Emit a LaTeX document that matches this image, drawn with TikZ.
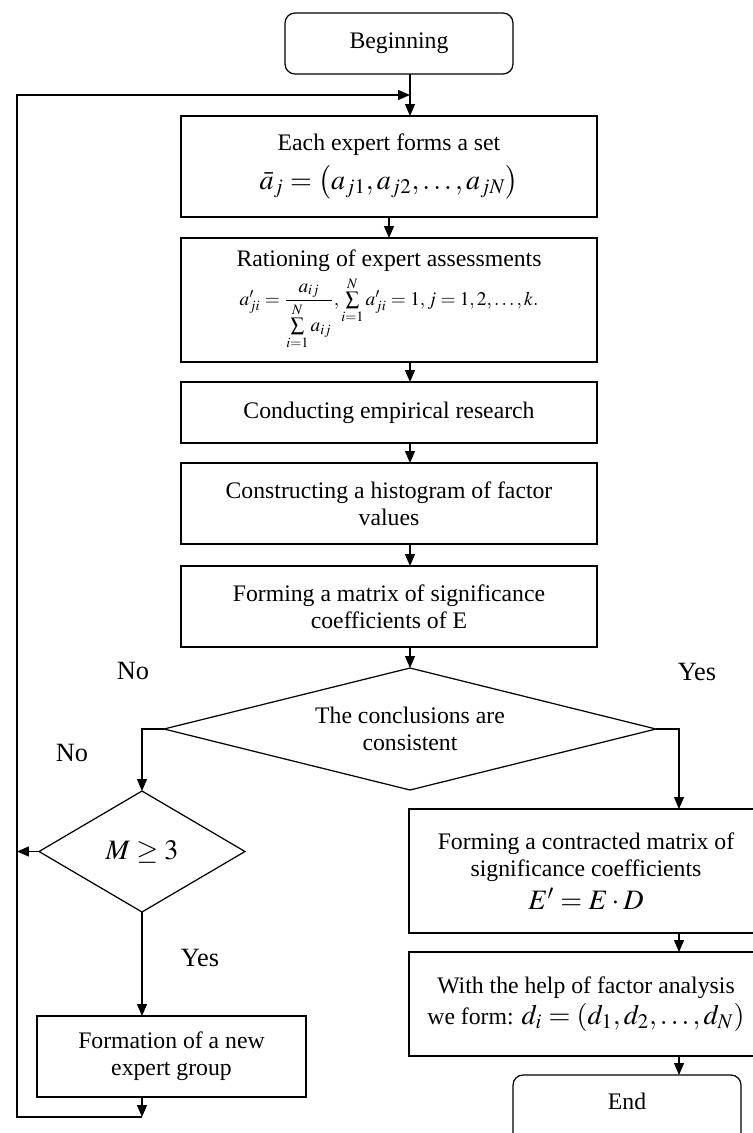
\documentclass[tikz,border=0pt]{standalone}
\usepackage{amsmath}
\usepackage{mathptmx}
\usepackage{fontspec}
\setmainfont{Liberation Serif}
\usetikzlibrary{shapes.geometric}
\usetikzlibrary{arrows.meta}

\begin{document}
\begin{tikzpicture}[x=0.02cm,y=-0.02cm,
  box/.style={draw,rectangle,line width=0.7pt,align=center,inner sep=2pt,outer sep=0pt,font=\fontsize{13.5}{15.5}\selectfont},
  term/.style={box,rounded corners=0.2cm},
  cond/.style={draw,diamond,aspect=3,line width=0.7pt,align=center,inner sep=0pt,outer sep=0pt,font=\fontsize{13.5}{15.5}\selectfont},
  lbl/.style={font=\fontsize{15}{18}\selectfont},
  arr/.style={line width=0.7pt,-{Triangle[length=0.24cm,width=0.2cm]}}]
\useasboundingbox (0,0) rectangle (752,1133);

\node[term,minimum width=4.56cm,minimum height=1.22cm] (start) at (399,43.5) {Beginning};
\node[box,minimum width=8.32cm,minimum height=2.02cm] (expert) at (389,166.5) {Each expert forms a set\\[5pt] {\fontsize{16}{18}\selectfont $\bar{a}_j=\left(a_{j1},a_{j2},\ldots,a_{jN}\right)$}};
\node[box,minimum width=8.32cm,minimum height=2.48cm] (ration) at (389,300) {Rationing of expert assessments\\[2pt] {\fontsize{11}{13}\selectfont $\boldsymbol{a}'_{ji}=\dfrac{\boldsymbol{a}_{ij}}{\sum\limits_{i=1}^{N}\boldsymbol{a}_{ij}},\sum\limits_{i=1}^{N}\boldsymbol{a}'_{ji}=1,\boldsymbol{j}=1,2,\ldots,\boldsymbol{k}.$}};
\node[box,minimum width=8.32cm,minimum height=1.22cm] (empir) at (389,412.5) {Conducting empirical research};
\node[box,minimum width=8.32cm,minimum height=1.62cm] (histo) at (389,503.5) {Constructing a histogram of factor\\ values};
\node[box,minimum width=8.32cm,minimum height=1.62cm] (signif) at (389,606.5) {Forming a matrix of significance\\ coefficients of E};
\node[cond,minimum width=9.84cm,minimum height=2.44cm] (consist) at (410,729) {The conclusions are\\ consistent};
\node[cond,minimum width=4.12cm,minimum height=2.42cm,font=\fontsize{16}{18}\selectfont] (mcheck) at (142,851.5) {$M\geq 3$};
\node[box,minimum width=5.38cm,minimum height=1.62cm] (newgroup) at (171.5,1056.5) {Formation of a new\\ expert group};
\node[box,minimum width=7.08cm,minimum height=2.48cm] (contract) at (586,871) {Forming a contracted matrix of\\ significance coefficients\\[3pt] {\fontsize{16}{18}\selectfont $E'=E\cdot D$}};
\node[box,minimum width=7.08cm,minimum height=2.08cm] (factor) at (586,1004) {With the help of factor analysis\\[2pt] we form: {\fontsize{16}{18}\selectfont $d_i=\left(d_1,d_2,\ldots,d_N\right)$}};
\node[term,minimum width=4.56cm,minimum height=1.5cm,text depth=0.45cm] (finish) at (627,1112.5) {End};

\node[lbl] (no1) at (133,671) {No};
\node[lbl] (yes1) at (697,672) {Yes};
\node[lbl] (no2) at (72,753) {No};
\node[lbl] (yes2) at (200,958) {Yes};

\coordinate (looptop) at (17,95);
\coordinate (loopbot) at (17,1117);
\coordinate (rcol) at (679,0);

\draw[arr] (start.south -| consist.north) -- (expert.north -| consist.north);
\draw[arr] (expert) -- (ration);
\draw[arr] (ration.south -| consist.north) -- (empir.north -| consist.north);
\draw[arr] (empir.south -| consist.north) -- (histo.north -| consist.north);
\draw[arr] (histo.south -| consist.north) -- (signif.north -| consist.north);
\draw[arr] (signif.south -| consist.north) -- (consist.north);
\draw[arr] (consist.west) -| (mcheck.north);
\draw[arr] (consist.east) -| (contract.north -| rcol);
\draw[arr] (contract.south -| rcol) -- (factor.north -| rcol);
\draw[arr] (factor.south -| rcol) -- (finish.north -| rcol);
\draw[arr] (mcheck.south) -- (newgroup.north -| mcheck.south);
\draw[arr] (mcheck.west) -- (mcheck.west -| looptop);
\draw[arr] (newgroup.south -| mcheck.south) -- (loopbot -| mcheck.south);
\draw[arr] (loopbot -| mcheck.south) -- (loopbot) -- (looptop) -- (looptop -| consist.north);

\end{tikzpicture}
\end{document}
